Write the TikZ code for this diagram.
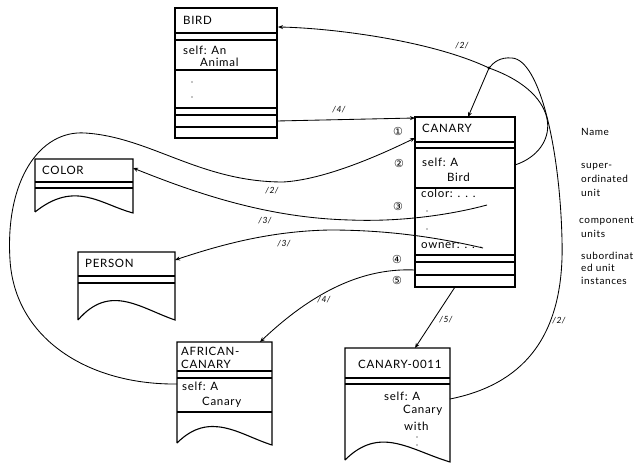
\documentclass[tikz,border=0pt]{standalone}
\usepackage{fontspec}
\setmainfont{Lato}[LetterSpace=6]
\newfontfamily\symfont{DejaVu Sans}
\usetikzlibrary{arrows.meta}
\begin{document}
\begin{tikzpicture}[x=1pt,y=-1pt,
  box/.style={line width=1.1pt},
  lnk/.style={line width=0.85pt},
  arr/.style={lnk,-{Stealth[length=5pt,width=4pt]}},
  txt/.style={anchor=base west,inner sep=0,font=\fontsize{11.5}{13}\selectfont},
  lbl/.style={inner sep=0,font=\fontsize{8.5}{9}\selectfont\itshape},
  side/.style={anchor=base west,inner sep=0,font=\fontsize{10}{12}\selectfont},
  circ/.style={inner sep=0,font=\symfont\fontsize{11}{11}\selectfont},
  dotm/.style={circle,fill=black,inner sep=0,minimum size=1.3pt}]
\useasboundingbox (0,0) rectangle (640,465);

% ---------- BIRD ----------
\draw[box] (175,8) rectangle (277,138);
\draw[box] (175,33)--(277,33) (175,40)--(277,40) (175,70)--(277,70)
  (175,108)--(277,108) (175,115)--(277,115) (175,127)--(277,127);
\node[txt] (birdT) at (183,25) {BIRD};
\node[txt] (birdS1) at (183,55) {self: An};
\node[txt] (birdS2) at (200,67) {Animal};
\node[dotm] (birdD1) at (192,82) {};
\node[dotm] (birdD2) at (192,97) {};

% ---------- CANARY ----------
\draw[box] (415,117) rectangle (515,287);
\draw[box] (415,142)--(515,142) (415,148)--(515,148) (415,188)--(515,188)
  (415,255)--(515,255) (415,262)--(515,262) (415,275)--(515,275);
\node[txt] (canT) at (422,133) {CANARY};
\node[txt] (canS1) at (422,167) {self: A};
\node[txt] (canS2) at (447,182) {Bird};
\node[txt] (canC) at (421,198) {color: . . .};
\node[dotm] (canD1) at (427,211) {};
\node[dotm] (canD2) at (427,229) {};
\node[txt] (canO) at (421,248) {owner: . . .};

% ---------- COLOR ----------
\draw[box] (35,212)--(35,159)--(133,159)--(133,213)
  .. controls (100,204) and (75,180) .. (35,212);
\draw[box] (35,182)--(133,182) (35,188)--(133,188);
\node[txt] (colT) at (42,175) {COLOR};

% ---------- PERSON ----------
\draw[box] (78,320)--(78,252)--(175,252)--(175,320)
  .. controls (140,308) and (110,283) .. (78,320);
\draw[box] (78,276)--(175,276) (78,283)--(175,283);
\node[txt] (perT) at (85,268) {PERSON};

% ---------- AFRICAN-CANARY ----------
\draw[box] (177,443)--(177,342)--(272,342)--(272,445)
  .. controls (240,435) and (210,410) .. (177,443);
\draw[box] (177,371)--(272,371) (177,378)--(272,378) (177,412)--(272,412);
\node[txt] (afrT1) at (181,355) {AFRICAN-};
\node[txt] (afrT2) at (181,368) {CANARY};
\node[txt] (afrS1) at (182,390) {self: A};
\node[txt] (afrS2) at (202,405) {Canary};

% ---------- CANARY-0011 ----------
\draw[box] (345,460)--(345,348)--(450,348)--(450,462)
  .. controls (410,450) and (380,425) .. (345,460);
\draw[box] (345,378)--(450,378) (345,384)--(450,384);
\node[txt] (c11T) at (358,368) {CANARY-0011};
\node[txt] (c11S1) at (384,400) {self: A};
\node[txt] (c11S2) at (403,413) {Canary};
\node[txt] (c11S3) at (404,430) {with};
\node[dotm] (c11D1) at (417,437) {};
\node[dotm] (c11D2) at (417,445) {};

% ---------- side labels ----------
\node[side] (sName) at (581,136) {Name};
\node[side] (sSup1) at (581,169) {super-};
\node[side] (sSup2) at (581,183) {ordinated};
\node[side] (sSup3) at (581,197) {unit};
\node[side] (sCom1) at (579,224) {component};
\node[side] (sCom2) at (581,237) {units};
\node[side] (sSub1) at (581,259) {subordinat};
\node[side] (sSub2) at (581,271) {ed unit};
\node[side] (sSub3) at (581,284) {instances};

% ---------- circled numbers ----------
\node[circ] (n1) at (398,131) {①};
\node[circ] (n2) at (399,163) {②};
\node[circ] (n3) at (398,206) {③};
\node[circ] (n4) at (397,259) {④};
\node[circ] (n5) at (397,280) {⑤};

% ---------- connector end points ----------
\coordinate (birdR2) at (278,27);
\coordinate (birdR4) at (277,121);
\coordinate (J) at (489,68);
\coordinate (canSelfR) at (515,165);
\coordinate (canTop) at (468,117);
\coordinate (canL1) at (415,118);
\coordinate (canL1b) at (415,138);
\coordinate (canL4) at (415,270);
\coordinate (canBot) at (455,287);
\coordinate (c11R) at (450,399);
\coordinate (c11Top) at (415,348);
\coordinate (afrSelfL) at (177,384);
\coordinate (afrTop) at (260,342);
\coordinate (colorR) at (133,168);
\coordinate (colorEnd) at (487,205);
\coordinate (personR) at (175,260);
\coordinate (personEnd) at (483,248);

% ---------- connectors ----------
% CANARY self -> BIRD  (/2/)
\draw[arr] (canSelfR) .. controls (560,150) and (565,95) .. (J)
  .. controls (430,40) and (330,28) .. (birdR2);
% CANARY-0011 self -> junction (/2/)
\draw[lnk] (c11R) .. controls (520,385) and (565,340) .. (562,240)
  .. controls (560,150) and (540,60) .. (512,58)
  .. controls (500,57) and (494,62) .. (J);
\fill (J) circle (1.6);
\draw[arr] (J) -- (canTop);
% BIRD -> CANARY (/4/)
\draw[arr] (birdR4) -- (canL1);
% AFRICAN-CANARY self -> CANARY (/2/)
\draw[arr] (afrSelfL) .. controls (90,385) and (15,340) .. (10,260)
  .. controls (5,180) and (40,130) .. (85,133)
  .. controls (150,137) and (200,182) .. (283,182)
  .. controls (320,180) and (370,160) .. (canL1b);
% color -> COLOR (/3/)
\draw[arr] (colorEnd) .. controls (450,215) and (400,222) .. (350,220)
  .. controls (270,218) and (200,195) .. (colorR);
% owner -> PERSON (/3/)
\draw[arr] (personEnd) .. controls (440,238) and (390,230) .. (330,230)
  .. controls (270,231) and (220,245) .. (personR);
% CANARY -> AFRICAN-CANARY (/4/)
\draw[arr] (canL4) .. controls (370,268) and (320,285) .. (afrTop);
% CANARY -> CANARY-0011 (/5/)
\draw[arr] (canBot) -- (c11Top);

% ---------- link labels ----------
\node[lbl] (l2a) at (462,46) {/2/};
\node[lbl] (l4a) at (339,110) {/4/};
\node[lbl] (l2b) at (272,191) {/2/};
\node[lbl] (l3a) at (265,221) {/3/};
\node[lbl] (l3b) at (284,244) {/3/};
\node[lbl] (l4b) at (324,300) {/4/};
\node[lbl] (l5) at (446,320) {/5/};
\node[lbl] (l2c) at (559,321) {/2/};
\end{tikzpicture}
\end{document}
